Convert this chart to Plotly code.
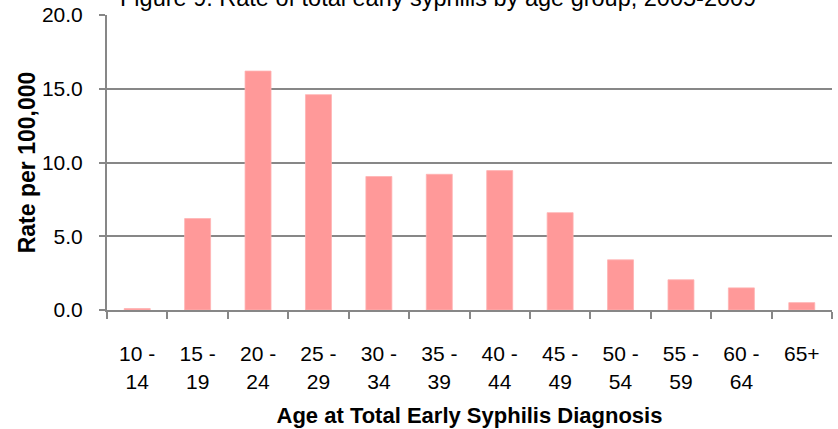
import plotly.graph_objects as go

age_groups = ["10 -<br>14", "15 -<br>19", "20 -<br>24", "25 -<br>29", "30 -<br>34", "35 -<br>39",
              "40 -<br>44", "45 -<br>49", "50 -<br>54", "55 -<br>59", "60 -<br>64", "65+<br> "]
rates = [0.1, 6.2, 16.2, 14.6, 9.05, 9.2, 9.45, 6.6, 3.4, 2.05, 1.5, 0.5]
y_ticks = [0, 5, 10, 15, 20]
y_tick_labels = ["0.0", "5.0", "10.0", "15.0", "20.0"]

title_text = "Figure 9: Rate of total early syphilis by age group, 2005-2009"
x_title = "Age at Total Early Syphilis Diagnosis"
y_title = "Rate per 100,000"

font_family = "Liberation Sans, Arial, sans-serif"
grey = "#878787"

fig = go.Figure()
fig.add_trace(go.Bar(
    x=age_groups, y=rates,
    marker=dict(color="#FF9999", line=dict(color="#FFB3B3", width=0.8)),
    width=0.43,
))

W, H = 838, 429
L, R, T, B = 107, 6, 15, 119

fig.update_layout(
    width=W, height=H,
    margin=dict(l=L, r=R, t=T, b=B, autoexpand=False),
    paper_bgcolor="white", plot_bgcolor="white",
    showlegend=False,
    font=dict(family=font_family, size=22, color="black"),
)

fig.update_xaxes(
    showline=True, linecolor=grey, linewidth=2,
    ticks="outside", ticklen=7, tickcolor=grey, tickwidth=2,
    tickson="boundaries",
    ticklabelstandoff=24,
    tickfont=dict(size=21),
    showgrid=False,
    automargin=False,
    title=dict(text="<b>" + x_title + "</b>", font=dict(size=22), standoff=16),
)
fig.update_yaxes(
    range=[0, 20], tickvals=y_ticks, ticktext=y_tick_labels,
    showline=True, linecolor=grey, linewidth=2,
    ticks="outside", ticklen=6, tickcolor=grey, tickwidth=2,
    showgrid=True, gridcolor=grey, gridwidth=2,
    tickfont=dict(size=21),
    ticklabelstandoff=12,
    automargin=False,
    title=dict(text="<b>" + y_title + "</b>", font=dict(size=23), standoff=0),
    zeroline=False,
)

plot_w = W - L - R
title_center_px = 438
fig.add_annotation(
    text=title_text, xref="paper", yref="paper",
    x=(title_center_px - L) / plot_w, y=1.0,
    yshift=2, xanchor="center", yanchor="bottom", showarrow=False,
    font=dict(size=23.5, family=font_family),
)

fig.write_html("out.html", config={"displayModeBar": False},
               post_script="document.body.style.margin='0';")
